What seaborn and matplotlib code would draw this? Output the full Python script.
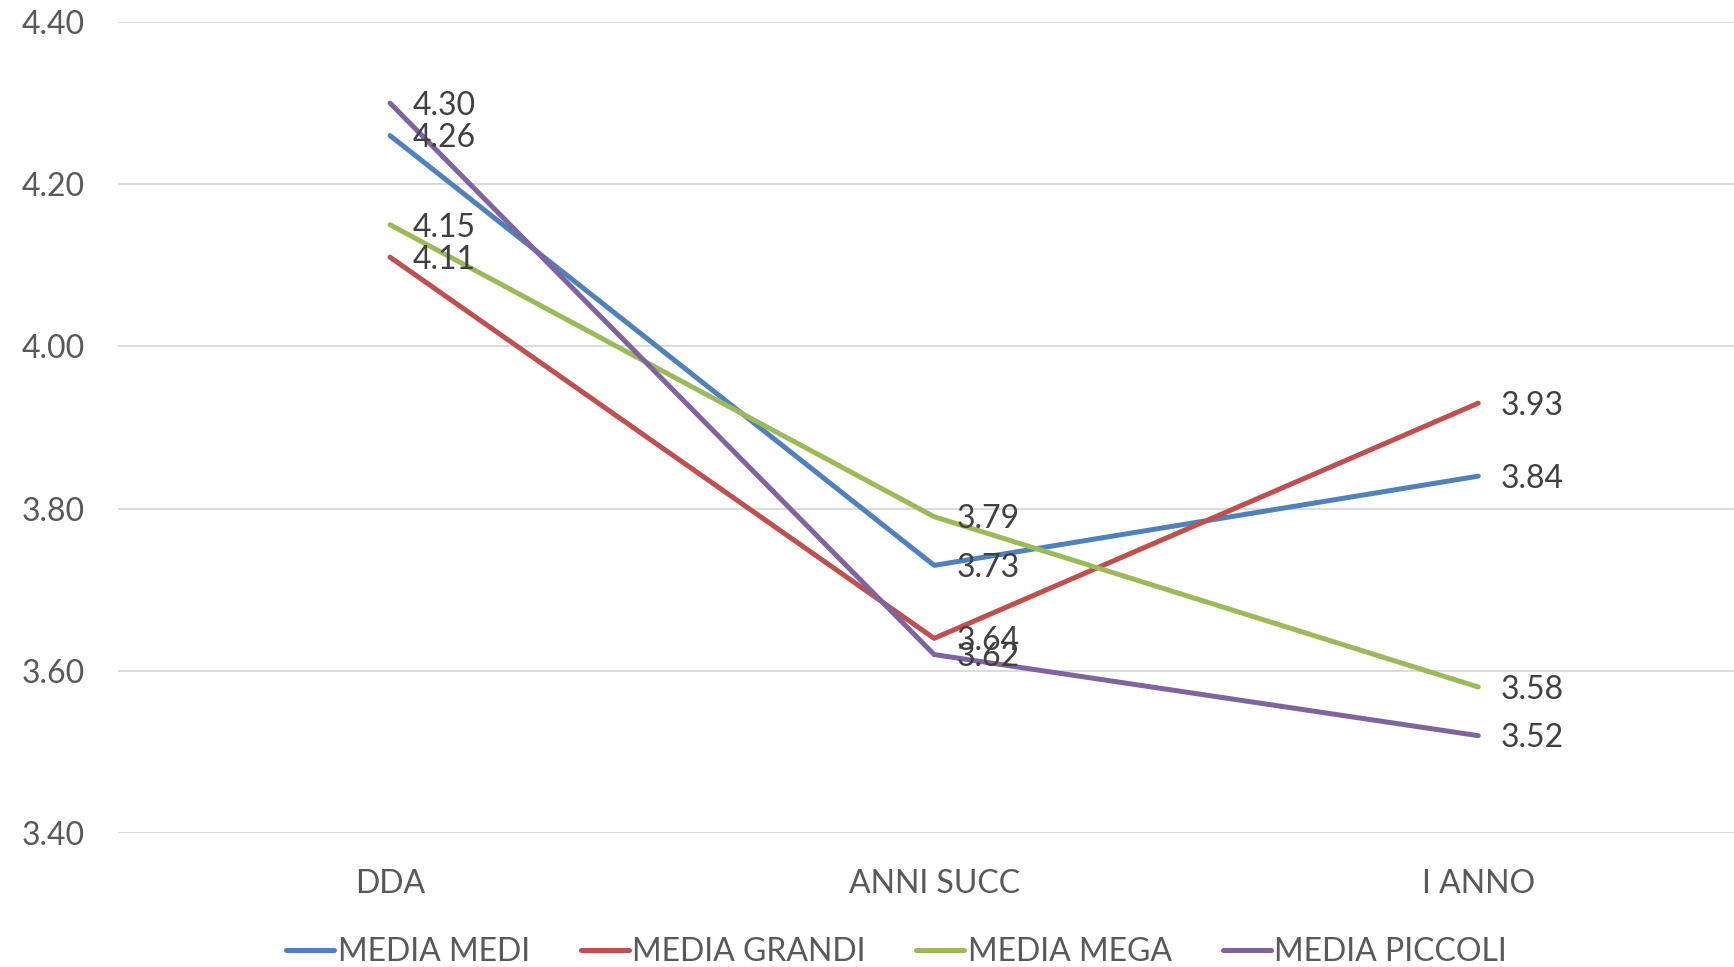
import matplotlib
matplotlib.use("Agg")
import matplotlib.pyplot as plt
import seaborn as sns
import pandas as pd

categories = ["DDA", "ANNI SUCC", "I ANNO"]
series = ["MEDIA MEDI", "MEDIA GRANDI", "MEDIA MEGA", "MEDIA PICCOLI"]
media_medi = [4.26, 3.73, 3.84]
media_grandi = [4.11, 3.64, 3.93]
media_mega = [4.15, 3.79, 3.58]
media_piccoli = [4.30, 3.62, 3.52]
colors = ["#4f81bd", "#c0504d", "#9bbb59", "#8064a2"]
y_ticks = [3.40, 3.60, 3.80, 4.00, 4.20, 4.40]

rows = []
for name, vals in zip(series, [media_medi, media_grandi, media_mega, media_piccoli]):
    for i, (cat, v) in enumerate(zip(categories, vals)):
        rows.append({"serie": name, "cat": cat, "x": i, "valore": v})
df = pd.DataFrame(rows)

sns.set_style("white")
plt.rcParams["font.family"] = ["Lato", "DejaVu Sans"]

fig = plt.figure(figsize=(17.34, 9.67), dpi=100)
ax = fig.add_axes([118 / 1734, 1 - 833 / 967, 1 - 118 / 1734, (833 - 22) / 967])

sns.lineplot(data=df, x="x", y="valore", hue="serie", hue_order=series,
             palette=colors, linewidth=3.6, ax=ax, sort=False,
             solid_capstyle="round")

# etichette dati
for _, r in df.iterrows():
    ax.annotate(f"{r['valore']:.2f}", (r["x"], r["valore"]), xytext=(16, -2),
                textcoords="offset points", va="center", ha="left",
                fontsize=23, color="#404040")

ax.set_xlim(-0.5, 2.47)
ax.set_ylim(3.40, 4.40)
ax.set_yticks(y_ticks)
ax.set_yticklabels([f"{t:.2f}" for t in y_ticks])
ax.set_xticks(range(len(categories)))
ax.set_xticklabels(categories)
ax.grid(axis="y", color="#d9d9d9", linewidth=1.3)
ax.set_axisbelow(True)
sns.despine(left=True, bottom=True, top=True, right=True)
ax.tick_params(axis="both", length=0, labelsize=23, labelcolor="#595959")
ax.tick_params(axis="y", pad=24)
ax.tick_params(axis="x", pad=26)
ax.set_xlabel("")
ax.set_ylabel("")

handles, labels = ax.get_legend_handles_labels()
ax.legend(handles, labels, loc="center", bbox_to_anchor=(0.517, 1 - 952 / 967),
          bbox_transform=fig.transFigure, ncol=4, frameon=False, fontsize=23,
          labelcolor="#595959", handlelength=1.5, handletextpad=0.1,
          columnspacing=1.6)

fig.savefig("out.png", dpi=100)
